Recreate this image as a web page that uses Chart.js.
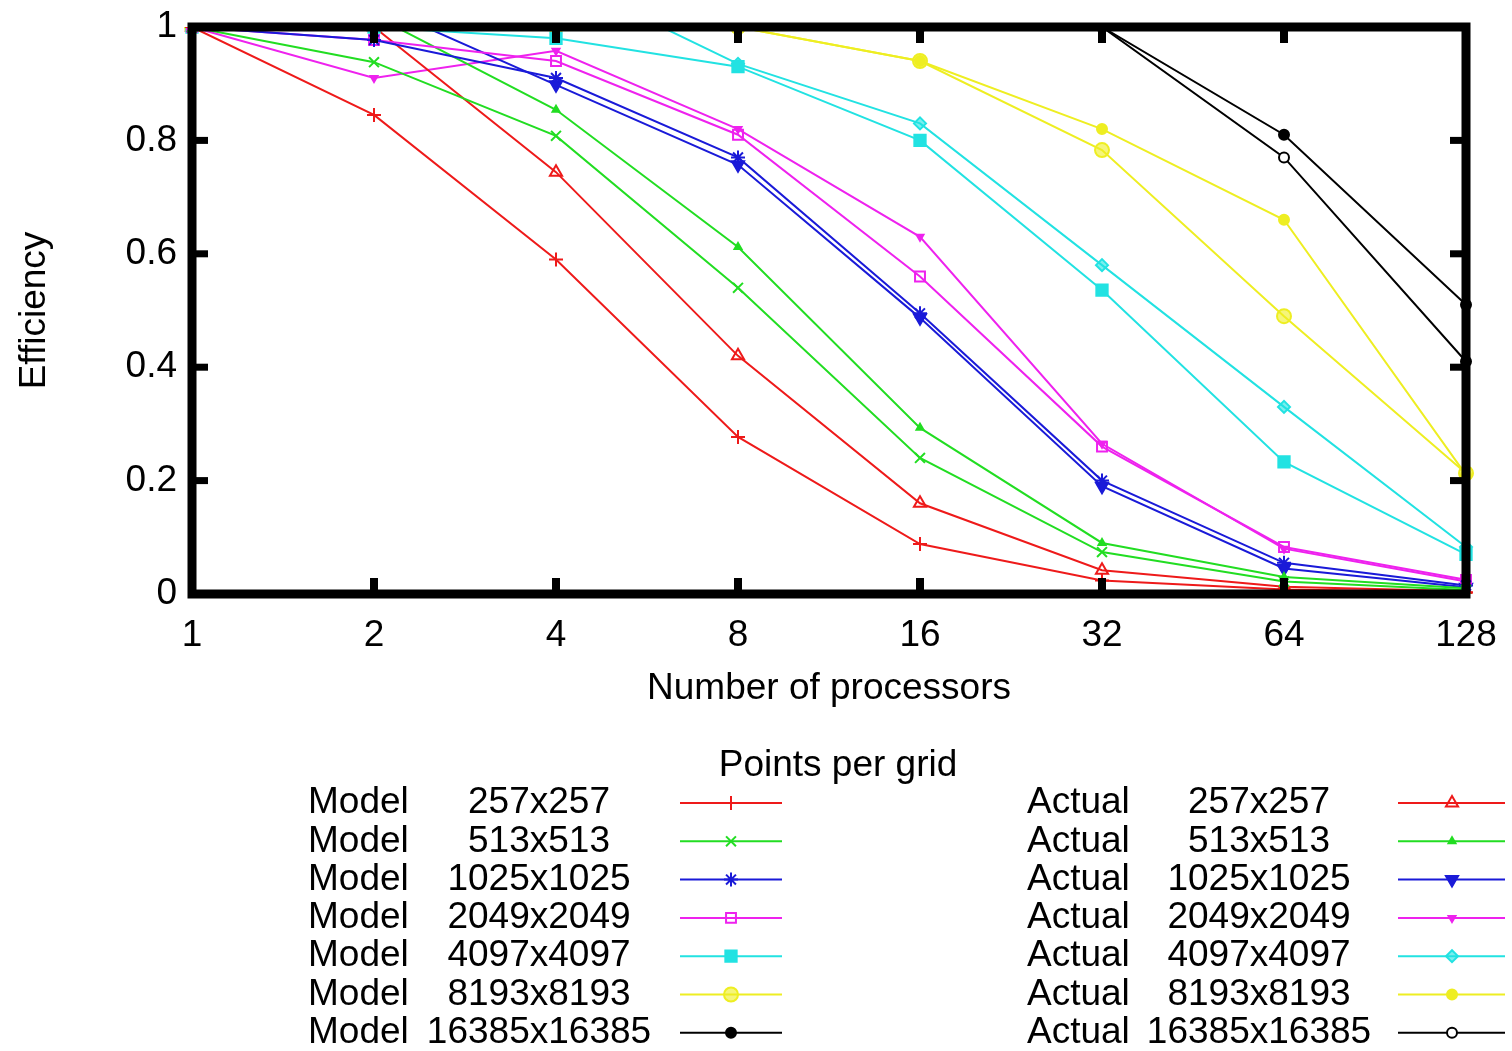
<!DOCTYPE html>
<html>
<head>
<meta charset="utf-8">
<script src="https://cdn.jsdelivr.net/npm/chart.js@4.4.1/dist/chart.umd.min.js"></script>
<style>
  html, body { margin: 0; padding: 0; background: #fff; }
  canvas { display: block; }
</style>
</head>
<body>
<canvas id="eff-chart" width="1512" height="1051"></canvas>
<script>
// processors (x axis, log2 spaced)
const processors = ['1', '2', '4', '8', '16', '32', '64', '128'];
const gridSizes = ['257x257', '513x513', '1025x1025', '2049x2049', '4097x4097', '8193x8193', '16385x16385'];

// efficiency
const model257 = [1, 0.845, 0.59, 0.277, 0.088, 0.024, 0.008, 0.003];
const model513 = [1, 0.938, 0.808, 0.54, 0.24, 0.074, 0.022, 0.007];
const model1025 = [1, 0.977, 0.91, 0.77, 0.495, 0.2, 0.055, 0.015];
const model2049 = [1, 0.977, 0.94, 0.81, 0.56, 0.26, 0.083, 0.025];
const model4097 = [1, 1.0, 0.98, 0.93, 0.80, 0.536, 0.233, 0.07];
const model8193 = [1, 1, 1, 1.0, 0.94, 0.783, 0.49, 0.213];
const model16385 = [1, 1, 1, 1, 1, 1.0, 0.81, 0.51];

const actual257 = [1, 1.0, 0.744, 0.42, 0.16, 0.042, 0.013, 0.005];
const actual513 = [1, 1.02, 0.854, 0.612, 0.293, 0.09, 0.03, 0.01];
const actual1025 = [1, 1.04, 0.898, 0.757, 0.487, 0.19, 0.045, 0.012];
const actual2049 = [1, 0.91, 0.958, 0.82, 0.63, 0.265, 0.08, 0.022];
const actual4097 = [1, 1.06, 1.09, 0.935, 0.83, 0.58, 0.33, 0.083];
const actual8193 = [1, 1, 1, 1.0, 0.94, 0.82, 0.66, 0.21];
const actual16385 = [1, 1, 1, 1, 1, 1.0, 0.77, 0.41];

const yTicks = [0, 0.2, 0.4, 0.6, 0.8, 1];

const modelData = [model257, model513, model1025, model2049, model4097, model8193, model16385];
const actualData = [actual257, actual513, actual1025, actual2049, actual4097, actual8193, actual16385];

const colors = ['#ee1a1a', '#22dd22', '#1a1ad8', '#ee22ee', '#22e2e2', '#eeee22', '#000000'];

const FONT = '"Liberation Sans", Arial, Helvetica, sans-serif';

// marker styles, gnuplot-ish
const modelMarks = [
    { style: 'cross', r: 7, fill: false },
    { style: 'crossRot', r: 7, fill: false },
    { style: 'star', r: 7, fill: false },
    { style: 'rect', r: 7, fill: false },
    { style: 'rect', r: 8, fill: true },
    { style: 'circle', r: 7, fill: 'soft' },
    { style: 'circle', r: 5, fill: true }
];
const actualMarks = [
    { style: 'triangle', r: 7, fill: false, rot: 0 },
    { style: 'triangle', r: 4, fill: true, rot: 0 },
    { style: 'triangle', r: 7, fill: true, rot: 180 },
    { style: 'triangle', r: 4, fill: true, rot: 180 },
    { style: 'rectRot', r: 6, fill: 'soft', rot: 0 },
    { style: 'circle', r: 5, fill: true, rot: 0 },
    { style: 'circle', r: 5, fill: 'white', rot: 0 }
];

function fillFor(mark, color) {
    if (mark.fill === true) return color;
    if (mark.fill === 'white') return '#ffffff';
    if (mark.fill === 'soft') return color + '99';
    return 'rgba(0,0,0,0)';
}

function makeDataset(kind, i, values, mark) {
    return {
        label: kind + ' ' + gridSizes[i],
        kind: kind,
        size: gridSizes[i],
        data: values,
        borderColor: colors[i],
        backgroundColor: fillFor(mark, colors[i]),
        pointBackgroundColor: fillFor(mark, colors[i]),
        pointBorderColor: colors[i],
        pointStyle: mark.style,
        pointRotation: mark.rot || 0,
        pointRadius: mark.r,
        pointBorderWidth: 2,
        borderWidth: 2,
        tension: 0
    };
}

const datasets = [];
modelData.forEach((vals, i) => datasets.push(makeDataset('Model', i, vals, modelMarks[i])));
actualData.forEach((vals, i) => datasets.push(makeDataset('Actual', i, vals, actualMarks[i])));

// heavy frame with inward ticks, like the gnuplot border
const framePlugin = {
    id: 'frame',
    afterDatasetsDraw(chart) {
        const { ctx, chartArea: a, scales } = chart;
        ctx.save();
        ctx.fillStyle = '#000';
        processors.forEach((p, i) => {
            const x = scales.x.getPixelForValue(i);
            ctx.fillRect(x - 4, a.bottom - 16, 8, 16);
            ctx.fillRect(x - 4, a.top, 8, 16);
        });
        yTicks.forEach(v => {
            const y = scales.y.getPixelForValue(v);
            ctx.fillRect(a.left, y - 3.5, 16, 7);
            ctx.fillRect(a.right - 16, y - 3.5, 16, 7);
        });
        ctx.strokeStyle = '#000';
        ctx.lineWidth = 9;
        ctx.strokeRect(a.left, a.top, a.right - a.left, a.bottom - a.top);
        ctx.restore();
    }
};

// two column key under the plot
const keyPlugin = {
    id: 'key',
    afterDraw(chart) {
        const ctx = chart.ctx;
        ctx.save();
        ctx.fillStyle = '#000';
        ctx.font = '37px ' + FONT;
        ctx.textBaseline = 'middle';
        ctx.textAlign = 'center';
        ctx.fillText('Points per grid', 838, 766);

        const cols = {
            Model: { word: 308, size: 539, l1: 680, l2: 782, mk: 731 },
            Actual: { word: 1027, size: 1259, l1: 1398, l2: 1505, mk: 1452 }
        };
        chart.data.datasets.forEach(ds => {
            const c = cols[ds.kind];
            const row = gridSizes.indexOf(ds.size);
            const y = 803 + row * 38.3;
            ctx.fillStyle = '#000';
            ctx.textAlign = 'left';
            ctx.fillText(ds.kind, c.word, y);
            ctx.textAlign = 'center';
            ctx.fillText(ds.size, c.size, y);

            ctx.strokeStyle = ds.borderColor;
            ctx.lineWidth = 2;
            ctx.beginPath();
            ctx.moveTo(c.l1, y);
            ctx.lineTo(c.l2, y);
            ctx.stroke();

            ctx.fillStyle = ds.pointBackgroundColor;
            ctx.strokeStyle = ds.pointBorderColor;
            Chart.helpers.drawPoint(ctx, {
                pointStyle: ds.pointStyle,
                rotation: ds.pointRotation,
                radius: ds.pointRadius,
                borderWidth: ds.pointBorderWidth
            }, c.mk, y);
        });
        ctx.restore();
    }
};

function createChart() {
    const ctx = document.getElementById('eff-chart').getContext('2d');
    return new Chart(ctx, {
        type: 'line',
        data: { labels: processors, datasets: datasets },
        options: {
            responsive: false,
            animation: false,
            layout: { padding: { top: 27, right: 46, bottom: 340, left: 0 } },
            plugins: {
                legend: { display: false },
                tooltip: { enabled: false }
            },
            scales: {
                x: {
                    type: 'category',
                    offset: false,
                    grid: { display: false, drawTicks: false },
                    border: { display: false },
                    ticks: {
                        color: '#000',
                        font: { family: FONT, size: 37 },
                        padding: 20,
                        autoSkip: false,
                        maxRotation: 0
                    },
                    title: {
                        display: true,
                        text: 'Number of processors',
                        color: '#000',
                        font: { family: FONT, size: 37 },
                        padding: { top: 0, bottom: 0 }
                    },
                    afterFit(scale) {
                        scale.height = 117;
                        scale.paddingLeft = 0;
                        scale.paddingRight = 0;
                    }
                },
                y: {
                    min: 0,
                    max: 1,
                    grid: { display: false, drawTicks: false },
                    border: { display: false },
                    afterBuildTicks(scale) { scale.ticks = yTicks.map(v => ({ value: v })); },
                    ticks: {
                        color: '#000',
                        font: { family: FONT, size: 37 },
                        padding: 15,
                        callback: v => String(Math.round(v * 10) / 10)
                    },
                    title: {
                        display: true,
                        text: 'Efficiency',
                        color: '#000',
                        font: { family: FONT, size: 37 },
                        padding: { top: 13, bottom: 0 }
                    },
                    afterFit(scale) {
                        scale.width = 192;
                        scale.paddingTop = 0;
                        scale.paddingBottom = 0;
                    }
                }
            }
        },
        plugins: [framePlugin, keyPlugin]
    });
}

document.addEventListener('DOMContentLoaded', () => {
    createChart();
});
</script>
</body>
</html>
